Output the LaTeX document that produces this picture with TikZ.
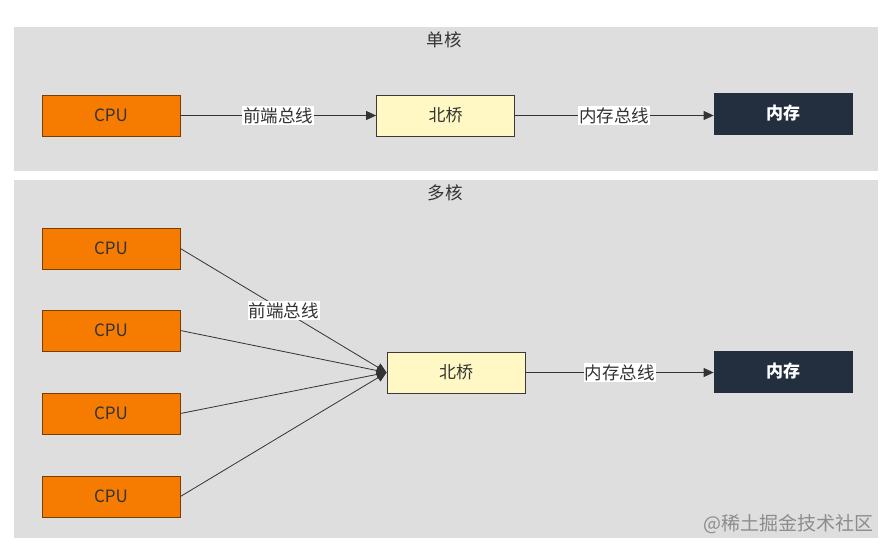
\documentclass[tikz,border=0pt]{standalone}
\usepackage{fontspec}
\setmainfont{Noto Sans CJK SC}
\usetikzlibrary{arrows.meta}
\definecolor{panelgray}{HTML}{DEDEDE}
\definecolor{cpuorange}{HTML}{F57C00}
\definecolor{cpuedge}{HTML}{7A3E00}
\definecolor{nbfill}{HTML}{FFF8C4}
\definecolor{nbedge}{HTML}{3A3A3A}
\definecolor{memfill}{HTML}{232F3E}
\definecolor{linegray}{HTML}{333333}
\tikzset{
  panel/.style={fill=panelgray, draw=none},
  box/.style={minimum width=138pt, minimum height=41pt, inner sep=0pt, font=\fontsize{17pt}{19pt}\selectfont, line width=0.8pt},
  cpubox/.style={box, fill=cpuorange, draw=cpuedge, text=black!80},
  nbbox/.style={box, fill=nbfill, draw=nbedge, text=black!80},
  membox/.style={box, fill=memfill, draw=memfill, text=white, font=\fontsize{17pt}{19pt}\selectfont\bfseries},
  conn/.style={draw=linegray, line width=0.8pt, -{Triangle[length=10pt,width=9pt]}},
  lbl/.style={fill=white, inner sep=1pt, font=\fontsize{17.5pt}{19pt}\selectfont, text=black!80},
  ttl/.style={font=\fontsize{17.5pt}{19pt}\selectfont, text=black!80}
}
\begin{document}
\begin{tikzpicture}[x=1pt,y=-1pt]
\useasboundingbox (0,0) rectangle (894,554);
\fill[white] (0,0) rectangle (894,554);
% top panel
\path[panel] (14,27) rectangle (878,171);
\node[ttl] (t1) at (444,40) {单核};
\node[cpubox] (c0) at (111,115.5) {CPU};
\node[nbbox] (n0) at (445.5,115.5) {北桥};
\node[membox] (m0) at (783,113.5) {内存};
\draw[conn] (c0) -- node[lbl] {前端总线} (n0);
\draw[conn] (n0.east) -- node[lbl] {内存总线} (m0.west |- n0.east);
% bottom panel
\path[panel] (14,180) rectangle (878,538);
\node[ttl] (t2) at (445,193) {多核};
\node[cpubox] (c1) at (111,248.5) {CPU};
\node[cpubox] (c2) at (111,330.5) {CPU};
\node[cpubox] (c3) at (111,413.5) {CPU};
\node[cpubox] (c4) at (111,496.5) {CPU};
\node[nbbox] (n1) at (456,372.5) {北桥};
\node[membox] (m1) at (783,371.5) {内存};
\draw[conn] (c1.east) -- node[lbl] {前端总线} (n1.west);
\draw[conn] (c2.east) -- (n1.west);
\draw[conn] (c3.east) -- (n1.west);
\draw[conn] (c4.east) -- (n1.west);
\draw[conn] (n1.east) -- node[lbl] {内存总线} (m1.west |- n1.east);
\node[anchor=east, text=black!45, font=\fontsize{19pt}{21pt}\selectfont] (wm) at (877,524) {@稀土掘金技术社区};
\end{tikzpicture}
\end{document}
